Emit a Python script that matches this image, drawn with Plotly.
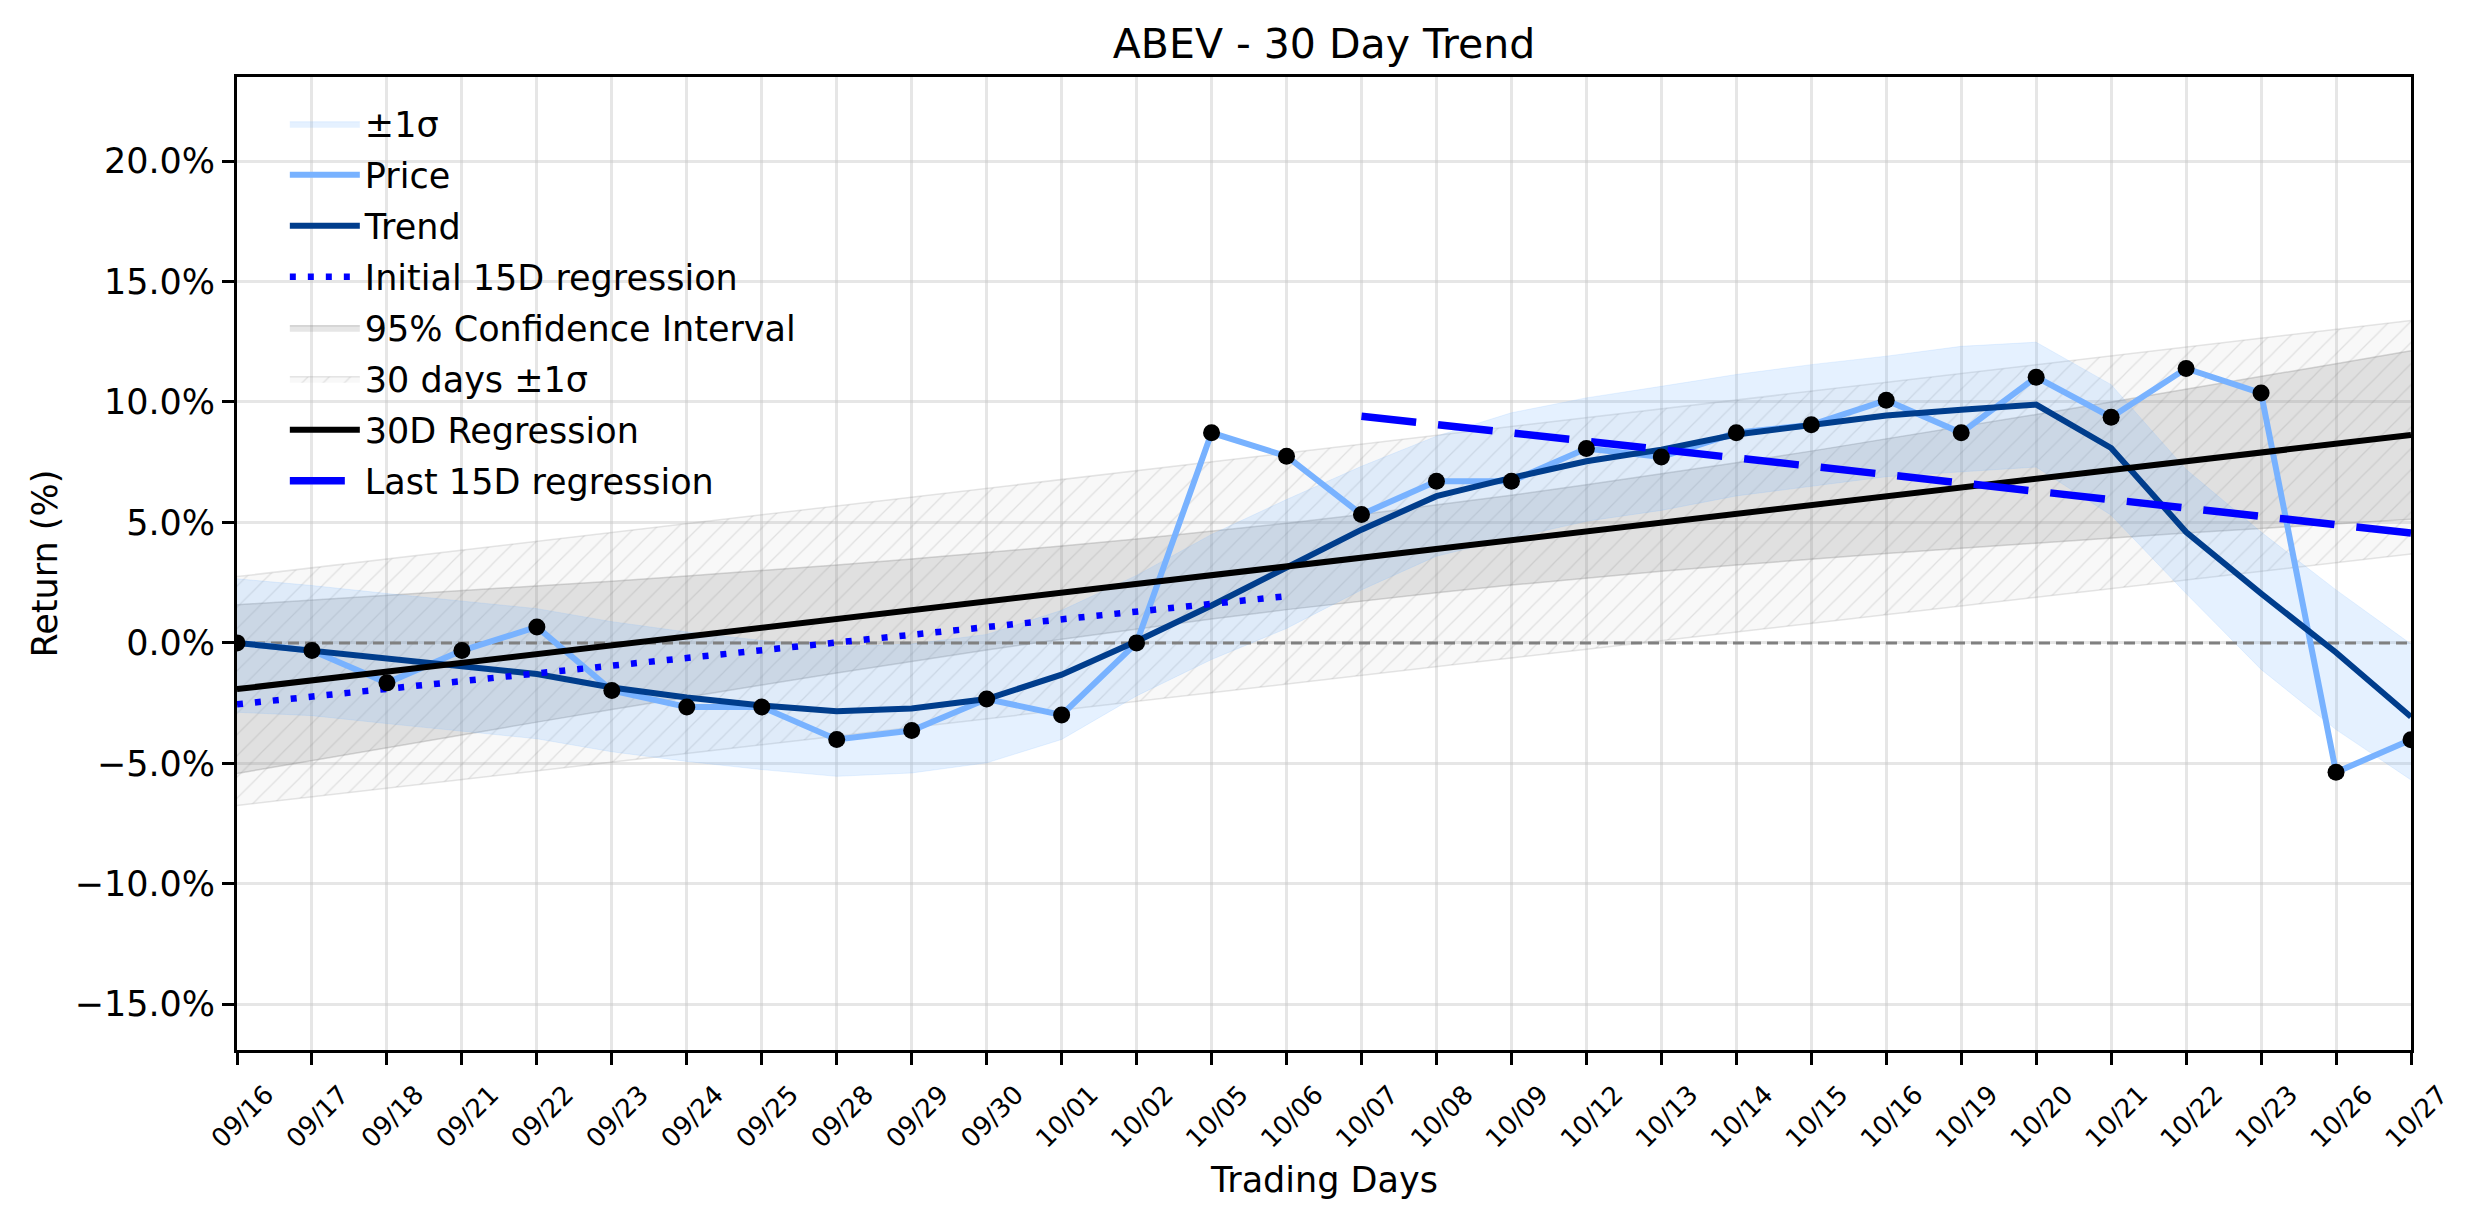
import plotly.graph_objects as go

# ---------------- data ----------------
dates = ["09/16", "09/17", "09/18", "09/21", "09/22", "09/23", "09/24", "09/25", "09/28", "09/29",
         "09/30", "10/01", "10/02", "10/05", "10/06", "10/07", "10/08", "10/09", "10/12", "10/13",
         "10/14", "10/15", "10/16", "10/19", "10/20", "10/21", "10/22", "10/23", "10/26", "10/27"]
day_idx = list(range(len(dates)))

price = [0.0, -0.32, -1.66, -0.32, 0.66, -1.98, -2.66, -2.66, -4.01, -3.64,
         -2.33, -2.99, 0.0, 8.72, 7.75, 5.33, 6.71, 6.71, 8.07, 7.72,
         8.72, 9.05, 10.07, 8.72, 11.03, 9.37, 11.39, 10.37, -5.37, -4.02]

trend = [0.0, -0.33, -0.67, -0.97, -1.29, -1.85, -2.27, -2.60, -2.84, -2.72,
         -2.33, -1.32, 0.07, 1.55, 3.11, 4.70, 6.09, 6.85, 7.54, 8.02,
         8.65, 9.03, 9.44, 9.68, 9.89, 8.09, 4.60, 2.05, -0.40, -3.07]

sigma_upper = [2.66, 2.38, 2.05, 1.75, 1.42, 0.88, 0.45, 0.10, -0.15, -0.05,
               0.35, 1.35, 2.80, 4.50, 5.95, 7.33, 8.58, 9.55, 10.17, 10.65,
               11.14, 11.55, 11.90, 12.31, 12.48, 10.72, 7.20, 4.60, 2.20, -0.05]
sigma_lower = [-2.88, -3.02, -3.35, -3.65, -3.98, -4.52, -4.92, -5.26, -5.54, -5.40,
               -4.98, -4.01, -2.20, -0.69, 0.60, 2.20, 3.60, 4.35, 5.05, 5.50,
               6.10, 6.50, 6.90, 7.10, 7.30, 5.30, 2.05, -1.10, -3.60, -5.69]

ci_upper = [1.58, 1.77, 1.96, 2.15, 2.36, 2.56, 2.78, 3.00, 3.23, 3.48,
            3.74, 4.02, 4.31, 4.63, 4.97, 5.33, 5.72, 6.13, 6.56, 7.01,
            7.48, 7.96, 8.46, 8.96, 9.48, 10.00, 10.52, 11.05, 11.59, 12.13]
ci_lower = [-5.42, -4.88, -4.34, -3.81, -3.29, -2.77, -2.25, -1.75, -1.25, -0.77,
            -0.30, 0.15, 0.58, 0.99, 1.38, 1.74, 2.08, 2.40, 2.69, 2.97,
            3.23, 3.48, 3.71, 3.93, 4.15, 4.36, 4.56, 4.75, 4.94, 5.13]

band30_x = [0, 29]
band30_upper = [2.75, 13.38]
band30_lower = [-6.75, 3.69]

reg30_x = [0, 29]
reg30_y = [-1.92, 8.63]
reg_init_x = [0, 14]
reg_init_y = [-2.55, 1.94]
reg_last_x = [15, 29]
reg_last_y = [9.41, 4.56]

y_ticks = [-15, -10, -5, 0, 5, 10, 15, 20]
y_tick_text = ["\u221215.0%", "\u221210.0%", "\u22125.0%", "0.0%", "5.0%", "10.0%", "15.0%", "20.0%"]

# ---------------- styles ----------------
FONT = "DejaVu Sans"
C_PRICE = "#78b2ff"
C_TREND = "#003d8c"
C_SIGMA = "rgba(110,175,255,0.18)"
C_CI = "rgba(128,128,128,0.20)"
C_HATCH_BG = "rgba(128,128,128,0.06)"

fig = go.Figure()

# 30 days +-1 sigma (hatched)
fig.add_trace(go.Scatter(x=band30_x, y=band30_lower, mode="lines",
                         line=dict(width=1.5, color="rgba(128,128,128,0.2)"),
                         showlegend=False, hoverinfo="skip", legendgroup="g6"))
fig.add_trace(go.Scatter(x=band30_x, y=band30_upper, mode="lines", fill="tonexty",
                         fillcolor=C_HATCH_BG,
                         fillpattern=dict(shape="/", fgcolor="rgba(128,128,128,0.4)",
                                          size=15, solidity=0.08, fillmode="overlay"),
                         line=dict(width=1.5, color="rgba(128,128,128,0.2)"),
                         name="30 days \u00b11\u03c3", legendrank=6, legendgroup="g6"))

# 95% CI
fig.add_trace(go.Scatter(x=day_idx, y=ci_lower, mode="lines",
                         line=dict(width=1.5, color="rgba(128,128,128,0.3)"),
                         showlegend=False, hoverinfo="skip", legendgroup="g5"))
fig.add_trace(go.Scatter(x=day_idx, y=ci_upper, mode="lines", fill="tonexty",
                         fillcolor=C_CI,
                         line=dict(width=1.5, color="rgba(128,128,128,0.3)"),
                         name="95% Confidence Interval", legendrank=5, legendgroup="g5"))

# +-1 sigma around trend
fig.add_trace(go.Scatter(x=day_idx, y=sigma_lower, mode="lines",
                         line=dict(width=1, color="rgba(110,175,255,0.15)"),
                         showlegend=False, hoverinfo="skip", legendgroup="g1"))
fig.add_trace(go.Scatter(x=day_idx, y=sigma_upper, mode="lines", fill="tonexty",
                         fillcolor=C_SIGMA,
                         line=dict(width=1, color="rgba(110,175,255,0.15)"),
                         name="\u00b11\u03c3", legendrank=1, legendgroup="g1"))

# zero line
fig.add_trace(go.Scatter(x=[0, 29], y=[0, 0], mode="lines",
                         line=dict(color="#808080", width=3, dash="11px,6px"),
                         showlegend=False, hoverinfo="skip", legendgroup="g9"))

# price
fig.add_trace(go.Scatter(x=day_idx, y=price, mode="lines",
                         line=dict(color=C_PRICE, width=6),
                         name="Price", legendrank=2, legendgroup="g2"))
# trend
fig.add_trace(go.Scatter(x=day_idx, y=trend, mode="lines",
                         line=dict(color=C_TREND, width=6),
                         name="Trend", legendrank=3, legendgroup="g3"))
# 30D regression
fig.add_trace(go.Scatter(x=reg30_x, y=reg30_y, mode="lines",
                         line=dict(color="black", width=6),
                         name="30D Regression", legendrank=7, legendgroup="g7"))
# initial 15D
fig.add_trace(go.Scatter(x=reg_init_x, y=reg_init_y, mode="lines",
                         line=dict(color="blue", width=6.5, dash="6px,12px"),
                         name="Initial 15D regression", legendrank=4, legendgroup="g4"))
# last 15D
fig.add_trace(go.Scatter(x=reg_last_x, y=reg_last_y, mode="lines",
                         line=dict(color="blue", width=7.5, dash="55px,22px"),
                         name="Last 15D regression", legendrank=8, legendgroup="g8"))
# dots
fig.add_trace(go.Scatter(x=day_idx, y=price, mode="markers",
                         marker=dict(color="black", size=17),
                         showlegend=False, hoverinfo="skip", legendgroup="g9"))

fig.update_layout(
    width=2474, height=1224, autosize=False,
    margin=dict(l=237, r=63, t=77, b=174),
    paper_bgcolor="white", plot_bgcolor="white",
    font=dict(family=FONT, size=35, color="black"),
    title=dict(text="ABEV - 30 Day Trend", x=0.5, xref="paper", xanchor="center",
               y=1 - 44 / 1224, yref="container", yanchor="middle",
               font=dict(size=41, family=FONT, color="black")),
    legend=dict(x=0.022, y=0.982, xanchor="left", yanchor="top",
                bgcolor="rgba(0,0,0,0)", font=dict(size=35, family=FONT),
                itemwidth=70, traceorder="grouped", tracegroupgap=2.5),
    showlegend=True,
)

fig.update_xaxes(range=[0, 29], tickmode="array", tickvals=day_idx, ticktext=dates,
                 tickangle=-45, tickfont=dict(size=26, family=FONT),
                 ticks="outside", ticklen=12, tickwidth=2.8, tickcolor="black",
                 showline=True, linecolor="black", linewidth=2.8, mirror=True,
                 showgrid=True, gridcolor="rgba(200,200,200,0.45)", gridwidth=2.5,
                 zeroline=False, ticklabelshift=29, ticklabelstandoff=4)
fig.update_yaxes(range=[-16.9, 23.49], tickmode="array", tickvals=y_ticks, ticktext=y_tick_text,
                 tickfont=dict(size=35, family=FONT),
                 ticks="outside", ticklen=12, tickwidth=2.8, tickcolor="black",
                 showline=True, linecolor="black", linewidth=2.8, mirror=True,
                 showgrid=True, gridcolor="rgba(200,200,200,0.45)", gridwidth=2.5,
                 zeroline=False)

fig.add_annotation(text="Return (%)", xref="paper", yref="paper", x=(44 - 237) / 2174, y=0.5,
                   xanchor="center", yanchor="middle", textangle=-90, showarrow=False,
                   font=dict(size=35, family=FONT))
fig.add_annotation(text="Trading Days", xref="paper", yref="paper", x=0.5, y=(1050 - 1180) / 973,
                   xanchor="center", yanchor="middle", showarrow=False,
                   font=dict(size=35, family=FONT))

fig.write_html("out.html")
